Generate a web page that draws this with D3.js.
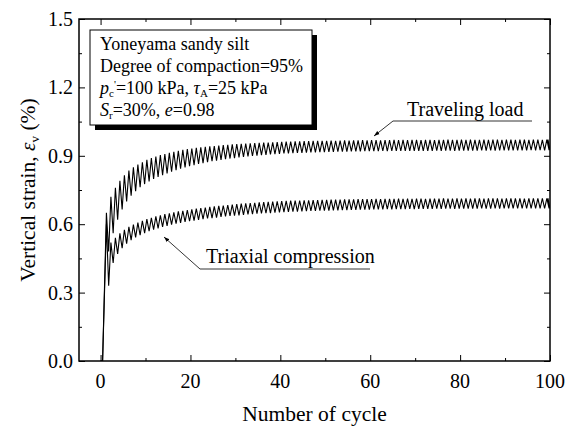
<!DOCTYPE html>
<html>
<head>
<meta charset="utf-8">
<script src="https://cdn.jsdelivr.net/npm/d3@7"></script>
<style>
body{margin:0;background:#fff;}
svg text{font-family:"Liberation Serif","Times New Roman",serif;fill:#000;}
</style>
</head>
<body>
<svg id="chart"></svg>
<script>
// chart values
var xTicks = [0, 20, 40, 60, 80, 100];
var yTicks = [0.0, 0.3, 0.6, 0.9, 1.2, 1.5];

// traveling load: peak and trough strain of each cycle (1..100)
var travelPeak = [
  0.65,0.72,0.76,0.79,0.815,0.835,0.85,0.862,0.872,0.882,
  0.89,0.897,0.903,0.908,0.913,0.918,0.922,0.926,0.929,0.932,
  0.935,0.937,0.939,0.941,0.943,0.945,0.947,0.948,0.95,0.951,
  0.952,0.953,0.955,0.956,0.957,0.958,0.958,0.959,0.96,0.961,
  0.962,0.962,0.963,0.963,0.964,0.964,0.965,0.965,0.966,0.966,
  0.967,0.966,0.967,0.968,0.967,0.968,0.968,0.969,0.968,0.969,
  0.969,0.968,0.969,0.969,0.97,0.969,0.97,0.969,0.97,0.97,
  0.969,0.97,0.97,0.969,0.97,0.97,0.971,0.97,0.97,0.971,
  0.97,0.971,0.97,0.97,0.971,0.97,0.971,0.971,0.97,0.971,
  0.971,0.97,0.971,0.971,0.97,0.971,0.971,0.97,0.971,0.971];
var travelTrough = [
  0.48,0.56,0.62,0.665,0.70,0.725,0.745,0.762,0.776,0.788,
  0.798,0.807,0.815,0.823,0.83,0.837,0.843,0.849,0.854,0.859,
  0.864,0.868,0.872,0.876,0.879,0.882,0.885,0.888,0.89,0.893,
  0.895,0.897,0.899,0.901,0.903,0.904,0.906,0.907,0.908,0.91,
  0.911,0.912,0.913,0.913,0.914,0.915,0.915,0.916,0.916,0.917,
  0.917,0.918,0.918,0.918,0.919,0.919,0.919,0.92,0.92,0.92,
  0.92,0.921,0.92,0.921,0.921,0.921,0.922,0.921,0.922,0.922,
  0.922,0.922,0.922,0.923,0.922,0.923,0.923,0.922,0.923,0.923,
  0.923,0.923,0.923,0.924,0.923,0.924,0.923,0.924,0.924,0.924,
  0.924,0.924,0.924,0.924,0.925,0.924,0.925,0.924,0.925,0.925];

// triaxial compression: peak and trough strain of each cycle (1..100)
var triaxPeak = [
  0.60,0.52,0.54,0.56,0.575,0.588,0.598,0.607,0.615,0.622,
  0.628,0.634,0.639,0.644,0.648,0.652,0.656,0.659,0.662,0.665,
  0.668,0.671,0.673,0.676,0.678,0.68,0.682,0.684,0.686,0.688,
  0.69,0.691,0.693,0.694,0.696,0.697,0.698,0.699,0.70,0.701,
  0.702,0.703,0.703,0.704,0.705,0.705,0.706,0.706,0.707,0.707,
  0.708,0.708,0.708,0.709,0.709,0.709,0.71,0.71,0.71,0.71,
  0.711,0.71,0.711,0.711,0.711,0.712,0.711,0.712,0.711,0.712,
  0.712,0.711,0.712,0.712,0.712,0.713,0.712,0.712,0.713,0.712,
  0.713,0.712,0.713,0.713,0.712,0.713,0.713,0.713,0.712,0.713,
  0.713,0.713,0.713,0.712,0.713,0.713,0.713,0.713,0.713,0.713];
var triaxTrough = [
  0.33,0.43,0.47,0.495,0.515,0.53,0.542,0.552,0.561,0.569,
  0.576,0.582,0.588,0.593,0.598,0.602,0.606,0.61,0.613,0.616,
  0.619,0.622,0.625,0.627,0.629,0.632,0.634,0.636,0.638,0.639,
  0.641,0.643,0.644,0.646,0.647,0.648,0.649,0.651,0.652,0.653,
  0.654,0.655,0.655,0.656,0.657,0.658,0.658,0.659,0.66,0.66,
  0.661,0.661,0.662,0.662,0.663,0.663,0.664,0.664,0.664,0.665,
  0.665,0.665,0.666,0.665,0.666,0.666,0.666,0.667,0.666,0.667,
  0.667,0.667,0.667,0.668,0.667,0.668,0.668,0.667,0.668,0.668,
  0.668,0.668,0.668,0.669,0.668,0.668,0.669,0.668,0.669,0.669,
  0.669,0.669,0.669,0.669,0.669,0.669,0.669,0.669,0.669,0.669];

/*********layout************/
var width = 570, height = 430;
var margin = {top:19, right:20, bottom:69, left:79};
var chartW = width - margin.left - margin.right;
var chartH = height - margin.top - margin.bottom;

var svg = d3.select('#chart').attr('width',width).attr('height',height);
var chartG = svg.append('g').attr('transform','translate('+margin.left+','+margin.top+')');

var xScale = d3.scaleLinear().domain([-4.8,100]).range([0,chartW]);
var yScale = d3.scaleLinear().domain([0,1.5]).range([chartH,0]);

/*********curves************/
// each cycle: strain climbs to the peak, then drops back to the trough
function cyclePoints(peaks, troughs){
  var pts = [[0,0],[0.45,0]];
  peaks.forEach(function(p,i){
    var n = i+1;
    if(n===100){pts.push([n-0.45,p]);pts.push([n,troughs[i]]);return;}
    pts.push([n+0.3,p]);
    pts.push([n+0.8,troughs[i]]);
  });
  return pts;
}
var line = d3.line().x(function(d){return xScale(d[0]);}).y(function(d){return yScale(d[1]);});

chartG.append('clipPath').attr('id','clip').append('rect')
  .attr('width',chartW).attr('height',chartH);

[[travelPeak,travelTrough],[triaxPeak,triaxTrough]].forEach(function(s){
  chartG.append('path')
    .datum(cyclePoints(s[0],s[1]))
    .attr('clip-path','url(#clip)')
    .attr('d',line)
    .style('fill','none').style('stroke','#000').style('stroke-width',1.1);
});

/*********axes************/
var xMinor = d3.range(10,100,20);
var yMinor = d3.range(0.15,1.5,0.3);
var tickFont = '20px';

// bottom
var axB = chartG.append('g').attr('transform','translate(0,'+chartH+')');
axB.call(d3.axisTop(xScale).tickValues(xTicks).tickSize(6).tickFormat(''));
axB.append('g').call(d3.axisTop(xScale).tickValues(xMinor).tickSize(3).tickFormat(''));
xTicks.forEach(function(t){
  axB.append('text').attr('x',xScale(t)).attr('y',27).attr('text-anchor','middle')
     .style('font-size',tickFont).text(t);
});
// top
var axT = chartG.append('g');
axT.call(d3.axisBottom(xScale).tickValues(xTicks).tickSize(6).tickFormat(''));
axT.append('g').call(d3.axisBottom(xScale).tickValues(xMinor).tickSize(3).tickFormat(''));
// left
var axL = chartG.append('g');
axL.call(d3.axisRight(yScale).tickValues(yTicks).tickSize(6).tickFormat(''));
axL.append('g').call(d3.axisRight(yScale).tickValues(yMinor).tickSize(3).tickFormat(''));
yTicks.forEach(function(t){
  axL.append('text').attr('x',-6).attr('y',yScale(t)+7).attr('text-anchor','end')
     .style('font-size',tickFont).text(d3.format('.1f')(t));
});
// right
var axR = chartG.append('g').attr('transform','translate('+chartW+',0)');
axR.call(d3.axisLeft(yScale).tickValues(yTicks).tickSize(6).tickFormat(''));
axR.append('g').call(d3.axisLeft(yScale).tickValues(yMinor).tickSize(3).tickFormat(''));

chartG.selectAll('.domain').remove();
chartG.selectAll('.tick line').style('stroke','#000').style('stroke-width',1);

chartG.append('rect').attr('width',chartW).attr('height',chartH)
  .style('fill','none').style('stroke','#000').style('stroke-width',1.5);

/*********labels************/
svg.append('text').attr('x',margin.left+chartW/2).attr('y',421).attr('text-anchor','middle')
  .style('font-size','21.5px').text('Number of cycle');

var yl = svg.append('text').attr('transform','translate(35,'+(margin.top+chartH/2)+') rotate(-90)')
  .attr('text-anchor','middle').style('font-size','21.5px');
yl.append('tspan').text('Vertical strain, ');
yl.append('tspan').style('font-style','italic').text('ε');
yl.append('tspan').attr('dy',4).style('font-size','13px').text('v');
yl.append('tspan').attr('dy',-4).text('  (%)');

/*********info box************/
var box = {x:90, y:30, w:222, h:95};
svg.append('rect').attr('x',box.x+5).attr('y',box.y+5).attr('width',box.w).attr('height',box.h).style('fill','#000');
svg.append('rect').attr('x',box.x).attr('y',box.y).attr('width',box.w).attr('height',box.h)
  .style('fill','#fff').style('stroke','#000').style('stroke-width',1);

var tx = 100, fs = '18px';
svg.append('text').attr('x',tx).attr('y',50).style('font-size',fs).text('Yoneyama sandy silt');
svg.append('text').attr('x',tx).attr('y',72).style('font-size',fs).text('Degree of compaction=95%');
var l3 = svg.append('text').attr('x',tx).attr('y',94).style('font-size',fs);
l3.append('tspan').style('font-style','italic').text('p');
l3.append('tspan').attr('dy',3).style('font-size','11px').text('c');
l3.append('tspan').attr('dy',-9).style('font-size','11px').text('\'');
l3.append('tspan').attr('dy',6).text('=100 kPa, ');
l3.append('tspan').style('font-style','italic').text('τ');
l3.append('tspan').attr('dy',3).style('font-size','11px').text('A');
l3.append('tspan').attr('dy',-3).text('=25 kPa');
var l4 = svg.append('text').attr('x',tx).attr('y',116).style('font-size',fs);
l4.append('tspan').style('font-style','italic').text('S');
l4.append('tspan').attr('dy',3).style('font-size','11px').text('r');
l4.append('tspan').attr('dy',-3).text('=30%, ');
l4.append('tspan').style('font-style','italic').text('e');
l4.append('tspan').text('=0.98');

/*********annotations************/
svg.append('defs').append('marker').attr('id','arr').attr('viewBox','0 0 10 10')
  .attr('refX',10).attr('refY',5).attr('markerWidth',7).attr('markerHeight',7)
  .attr('orient','auto-start-reverse')
  .append('path').attr('d','M0,1.5L10,5L0,8.5z').style('fill','#000');

function note(label, tx, ty, ux0, ux1, uy, ax, ay){
  svg.append('text').attr('x',tx).attr('y',ty).style('font-size','20px').text(label);
  svg.append('path').attr('d','M'+ux1+','+uy+'L'+ux0+','+uy+'L'+ax+','+ay)
    .style('fill','none').style('stroke','#000').style('stroke-width',0.8)
    .attr('marker-end','url(#arr)');
}
note('Traveling load', 407, 116, 393, 532, 121, 374, 136);
note('Triaxial compression', 206, 263, 200, 370, 269, 164, 237);
</script>
</body>
</html>
